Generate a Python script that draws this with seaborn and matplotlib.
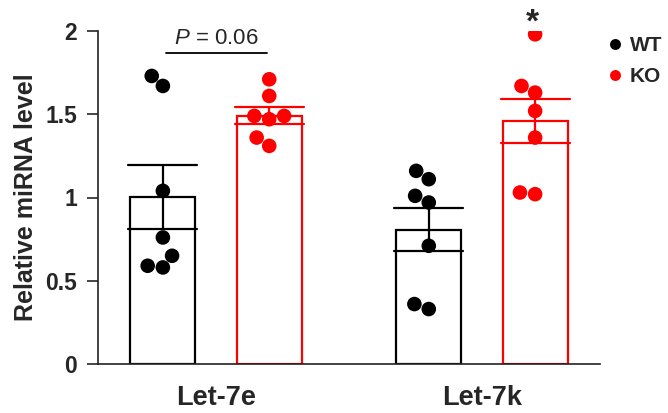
import numpy as np
import pandas as pd
import matplotlib
matplotlib.use("Agg")
import matplotlib.pyplot as plt
import seaborn as sns

# ── data ───────────────────────────────────────────────────────
mirnas = ["Let-7e", "Let-7k"]
groups = ["WT", "KO"]
let7e_wt = [1.67, 1.73, 1.04, 0.76, 0.65, 0.58, 0.59]
let7e_ko = [1.71, 1.61, 1.49, 1.49, 1.47, 1.31, 1.36]
let7k_wt = [1.16, 1.11, 1.01, 0.97, 0.71, 0.33, 0.36]
let7k_ko = [1.98, 1.63, 1.67, 1.52, 1.36, 1.02, 1.03]
y_ticks = [0, 0.5, 1, 1.5, 2]
y_tick_labels = ["0", "0.5", "1", "1.5", "2"]
colors = {"WT": "black", "KO": "#ff0000"}

rows = []
for mirna, wt, ko in [("Let-7e", let7e_wt, let7e_ko), ("Let-7k", let7k_wt, let7k_ko)]:
    rows += [(mirna, "WT", v) for v in wt]
    rows += [(mirna, "KO", v) for v in ko]
df = pd.DataFrame(rows, columns=["mirna", "group", "level"])

sns.set_style("ticks")
plt.rcParams["font.family"] = ["Liberation Sans", "DejaVu Sans"]
plt.rcParams["mathtext.fontset"] = "custom"
plt.rcParams["mathtext.rm"] = "Liberation Sans"
plt.rcParams["mathtext.it"] = "Liberation Sans:italic"

fig = plt.figure(figsize=(6.68, 4.13), dpi=100)
ax = fig.add_axes([98 / 668, 49 / 413, 502 / 668, 333 / 413])

sns.barplot(data=df, x="mirna", y="level", hue="group", order=mirnas,
            hue_order=groups, palette=colors, fill=False, width=0.8, gap=0.39,
            errorbar="se", capsize=0.52, linewidth=1.6,
            err_kws={"linewidth": 1.6}, legend=False, ax=ax)
sns.swarmplot(data=df, x="mirna", y="level", hue="group", order=mirnas,
              hue_order=groups, palette=colors, dodge=True, size=10.5,
              linewidth=0, zorder=5, ax=ax)

ax.set_xlim(-0.444, 1.444)
ax.set_ylim(0, 2)
ax.set_yticks(y_ticks)
ax.set_yticklabels(y_tick_labels)
ax.set_xlabel("")
ax.set_ylabel("Relative miRNA level", fontsize=18, fontweight="bold", labelpad=5)
ax.tick_params(axis="y", length=8, width=1.2, pad=7, labelsize=16.5)
ax.tick_params(axis="x", length=0, pad=15, labelsize=19.5)
for lab in ax.get_xticklabels() + ax.get_yticklabels():
    lab.set_fontweight("bold")
sns.despine(ax=ax)
for side in ["left", "bottom"]:
    ax.spines[side].set_linewidth(1.2)
    ax.spines[side].set_color("#222222")

# significance marks
ax.plot([-0.19, 0.19], [1.87, 1.87], color="black", lw=1.3, clip_on=False)
ax.text(0, 1.89, r"$P$ = 0.06", ha="center", va="bottom", fontsize=16,
        clip_on=False)
ax.text(1.19, 2.05, "*", ha="center", va="center", fontsize=24,
        fontweight="bold", clip_on=False)

handles, labels = ax.get_legend_handles_labels()
ax.legend(handles, labels, loc="upper left",
          bbox_to_anchor=(605 / 668, 1 - 36 / 413),
          bbox_transform=fig.transFigure, frameon=False, borderpad=0,
          borderaxespad=0, handlelength=1.0, handletextpad=0.2,
          markerscale=0.75, labelspacing=0.58,
          prop={"size": 15, "weight": "bold"})

fig.savefig("out.png", dpi=100)
